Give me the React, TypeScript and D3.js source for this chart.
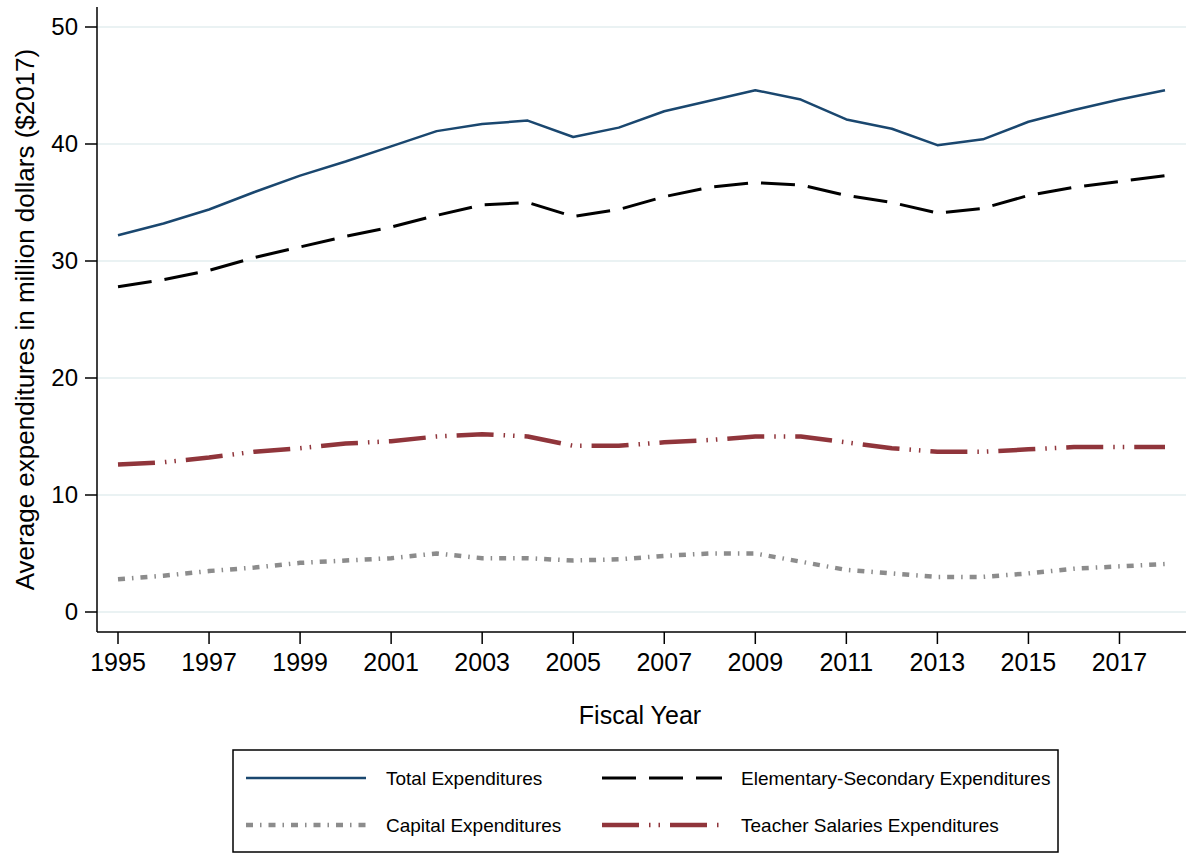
import React from "react";
import * as d3 from "d3";

const years = [1995,1996,1997,1998,1999,2000,2001,2002,2003,2004,2005,2006,2007,2008,2009,2010,2011,2012,2013,2014,2015,2016,2017,2018];
const totalExp = [32.2,33.2,34.4,35.9,37.3,38.5,39.8,41.1,41.7,42.0,40.6,41.4,42.8,43.7,44.6,43.8,42.1,41.3,39.9,40.4,41.9,42.9,43.8,44.6];
const elemSecExp = [27.8,28.4,29.2,30.3,31.2,32.1,32.9,33.9,34.8,35.0,33.8,34.4,35.5,36.3,36.7,36.5,35.6,35.0,34.1,34.5,35.6,36.3,36.8,37.3];
const capitalExp = [2.8,3.1,3.5,3.8,4.2,4.4,4.6,5.0,4.6,4.6,4.4,4.5,4.8,5.0,5.0,4.3,3.6,3.3,3.0,3.0,3.3,3.7,3.9,4.1];
const teacherExp = [12.6,12.8,13.2,13.7,14.0,14.4,14.6,15.0,15.2,15.0,14.2,14.2,14.5,14.7,15.0,15.0,14.5,14.0,13.7,13.7,13.9,14.1,14.1,14.1];
const yTicks = [0,10,20,30,40,50];
const xTicks = [1995,1997,1999,2001,2003,2005,2007,2009,2011,2013,2015,2017];

const series = [
  { name: "Total Expenditures", values: totalExp, color: "#1a476f", width: 2.5, dash: "none" },
  { name: "Elementary-Secondary Expenditures", values: elemSecExp, color: "#000000", width: 3, dash: "34 13" },
  { name: "Capital Expenditures", values: capitalExp, color: "#8c8c8c", width: 4.5, dash: "7 7 1.5 7" },
  { name: "Teacher Salaries Expenditures", values: teacherExp, color: "#90353b", width: 4.5, dash: "37 10 1.5 8 1.5 10" },
];

const FONT = "'Liberation Sans', Arial, Helvetica, sans-serif";

export default function App() {
  const W = 1186, H = 854;
  const left = 97, right = 1186, top = 7, bottom = 632;
  const x = d3.scaleLinear().domain([1995, 2018]).range([118, 1165]);
  const y = d3.scaleLinear().domain([0, 50]).range([612, 27]);

  const lineGen = (vals: number[]) =>
    d3.line<number>().x((_, i) => x(years[i])).y((d) => y(d)).curve(d3.curveLinear)(vals) || "";

  const legendItems = [
    { s: series[0], lx: 246, tx: 386, ly: 778 },
    { s: series[1], lx: 602, tx: 741, ly: 778 },
    { s: series[2], lx: 246, tx: 386, ly: 825 },
    { s: series[3], lx: 602, tx: 741, ly: 825 },
  ];

  return (
    <svg width={W} height={H} style={{ position: "absolute", left: 0, top: 0, background: "#fff" }} fontFamily={FONT}>
      <rect x={0} y={0} width={W} height={H} fill="#fff" />
      {yTicks.map((t) => (
        <line key={"g" + t} x1={left} x2={right} y1={y(t)} y2={y(t)} stroke="#eaf2f3" strokeWidth={2} />
      ))}
      {series.map((s) => (
        <path key={s.name} d={lineGen(s.values)} fill="none" stroke={s.color} strokeWidth={s.width}
          strokeDasharray={s.dash} strokeLinejoin="round" />
      ))}
      <line x1={left} x2={left} y1={top} y2={bottom} stroke="#000" strokeWidth={1.5} />
      <line x1={left} x2={right} y1={bottom} y2={bottom} stroke="#000" strokeWidth={1.5} />
      {yTicks.map((t) => (
        <g key={"yt" + t}>
          <line x1={left - 12} x2={left} y1={y(t)} y2={y(t)} stroke="#000" strokeWidth={1.5} />
          <text x={78} y={y(t)} dy="0.35em" textAnchor="end" fontSize={24} fill="#000">{t}</text>
        </g>
      ))}
      {xTicks.map((t) => (
        <g key={"xt" + t}>
          <line x1={x(t)} x2={x(t)} y1={bottom} y2={bottom + 12} stroke="#000" strokeWidth={1.5} />
          <text x={x(t)} y={671} textAnchor="middle" fontSize={25} fill="#000">{t}</text>
        </g>
      ))}
      <text x={640} y={724} textAnchor="middle" fontSize={25} fill="#000">Fiscal Year</text>
      <text transform={`translate(34,${(top + bottom) / 2}) rotate(-90)`} textAnchor="middle" fontSize={26} fill="#000">
        Average expenditures in million dollars ($2017)
      </text>
      <rect x={233} y={750} width={825} height={102} fill="#fff" stroke="#000" strokeWidth={1.5} />
      {legendItems.map(({ s, lx, tx, ly }) => (
        <g key={"l" + s.name}>
          <line x1={lx} x2={lx + 120} y1={ly} y2={ly} stroke={s.color} strokeWidth={s.width} strokeDasharray={s.dash} />
          <text x={tx} y={ly} dy="0.35em" fontSize={19} fill="#000">{s.name}</text>
        </g>
      ))}
    </svg>
  );
}
